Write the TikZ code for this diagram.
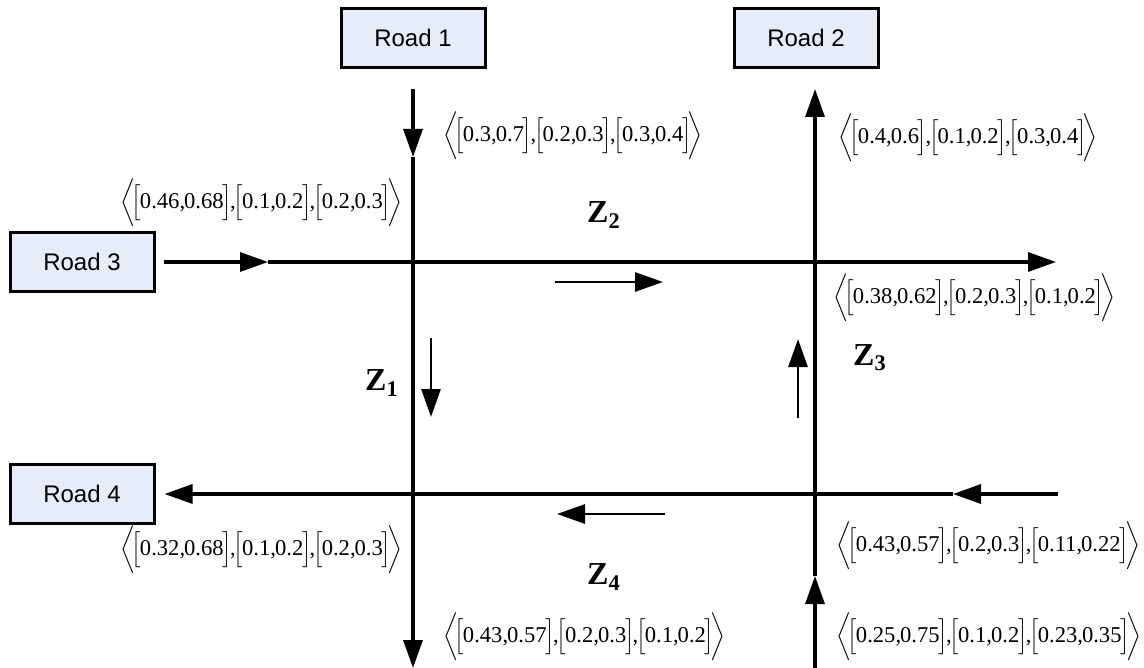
\documentclass[tikz,border=0pt]{standalone}
\usepackage{fontspec}
\setmainfont{Liberation Serif}
\newfontfamily\roadfont{Liberation Sans}
\usetikzlibrary{positioning, calc, arrows.meta}
\definecolor{roadfill}{RGB}{230,237,248}

\begin{document}
\begin{tikzpicture}[
    x=0.5pt, y=-0.5pt,
    roadbox/.style={
        draw=black,
        fill=roadfill,
        line width=1.5pt,
        minimum width=72pt,
        minimum height=29.5pt,
        font=\roadfont\fontsize{12}{14}\selectfont
    },
    arrow/.style={
        -{Triangle[length=14pt, width=9.5pt]},
        line width=1.6pt
    },
    flow/.style={
        -{Triangle[length=14pt, width=9.5pt]},
        line width=1.4pt
    },
    interval/.style={anchor=west, inner sep=0pt,
        font=\fontsize{11.3}{13}\selectfont},
    zone/.style={font=\bfseries\fontsize{16}{18}\selectfont}
]

% Interval-valued triples
\newcommand{\ivl}[2]{\Bigl[\mkern-1mu\mbox{#1,\kern-0.5pt#2}\mkern-1mu\Bigr]}
\newcommand{\sep}{\mkern-1.5mu\mbox{,}\mkern-1.5mu}
\newcommand{\tri}[3]{$\biggl\langle\mkern-3mu #1\sep#2\sep#3\mkern-3mu\biggr\rangle$}

\useasboundingbox (0,0) rectangle (1144,668);

% Roads
\node[roadbox] (road1) at (413,38) {Road 1};
\node[roadbox] (road2) at (806,38) {Road 2};
\node[roadbox] (road3) at (82,262) {Road 3};
\node[roadbox] (road4) at (82,494) {Road 4};

% Mid arrows and free ends
\coordinate (r1mid) at (413,157);
\coordinate (r1end) at (413,668);
\coordinate (r2start) at (815,668);
\coordinate (r2mid) at (815,576);
\coordinate (r3mid) at (268,262);
\coordinate (r3end) at (1056,262);
\coordinate (r4start) at (1058,494);
\coordinate (r4mid) at (953,494);

% Road 1 (down)
\draw[arrow, shorten <=10pt] (road1.south) -- (r1mid);
\draw[arrow] (r1mid) -- (r1end);

% Road 2 (up)
\draw[arrow] (r2start) -- (r2mid);
\draw[arrow, shorten >=10pt] (r2mid) -- (r2mid |- road2.south);

% Road 3 (right)
\draw[arrow, shorten <=4pt] (road3.east) -- (r3mid);
\draw[arrow] (r3mid) -- (r3end);

% Road 4 (left)
\draw[arrow] (r4start) -- (r4mid);
\draw[arrow, shorten >=4.5pt] (r4mid) -- (road4.east);

% Zones
\node[zone] (z1) at (382,383) {Z\textsubscript{1}};
\node[zone] (z2) at (604,215) {Z\textsubscript{2}};
\node[zone] (z3) at (870,358) {Z\textsubscript{3}};
\node[zone] (z4) at (604,577) {Z\textsubscript{4}};

\coordinate (f1a) at (431,338); \coordinate (f1b) at (431,417);
\coordinate (f2a) at (555,282); \coordinate (f2b) at (663,282);
\coordinate (f3a) at (798,418); \coordinate (f3b) at (798,339);
\coordinate (f4a) at (665,514); \coordinate (f4b) at (557,514);
\draw[flow] (f1a) -- (f1b);
\draw[flow] (f2a) -- (f2b);
\draw[flow] (f3a) -- (f3b);
\draw[flow] (f4a) -- (f4b);

% Labels
\node[interval] (l1) at (443,136) {\tri{\ivl{0.3}{0.7}}{\ivl{0.2}{0.3}}{\ivl{0.3}{0.4}}};
\node[interval] (l2) at (838,138) {\tri{\ivl{0.4}{0.6}}{\ivl{0.1}{0.2}}{\ivl{0.3}{0.4}}};
\node[interval] (l3) at (120,203) {\tri{\ivl{0.46}{0.68}}{\ivl{0.1}{0.2}}{\ivl{0.2}{0.3}}};
\node[interval] (l4) at (833,298) {\tri{\ivl{0.38}{0.62}}{\ivl{0.2}{0.3}}{\ivl{0.1}{0.2}}};
\node[interval] (l5) at (120,550) {\tri{\ivl{0.32}{0.68}}{\ivl{0.1}{0.2}}{\ivl{0.2}{0.3}}};
\node[interval] (l6) at (836,546) {\tri{\ivl{0.43}{0.57}}{\ivl{0.2}{0.3}}{\ivl{0.11}{0.22}}};
\node[interval] (l7) at (443,637) {\tri{\ivl{0.43}{0.57}}{\ivl{0.2}{0.3}}{\ivl{0.1}{0.2}}};
\node[interval] (l8) at (836,637) {\tri{\ivl{0.25}{0.75}}{\ivl{0.1}{0.2}}{\ivl{0.23}{0.35}}};

\end{tikzpicture}
\end{document}
